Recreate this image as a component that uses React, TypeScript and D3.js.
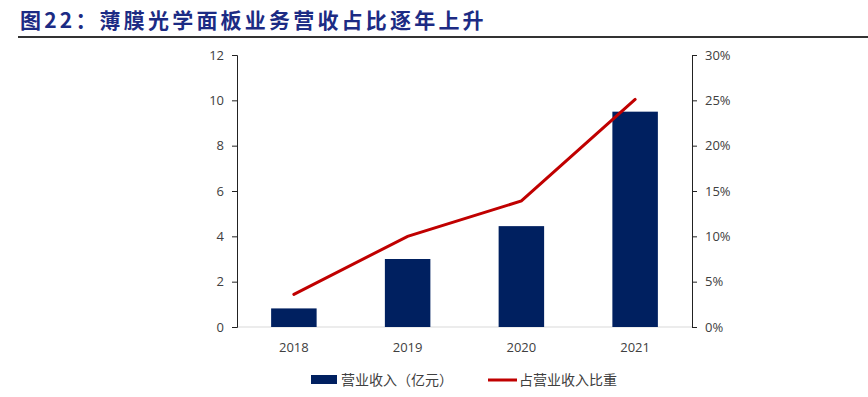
import React, { useEffect, useRef } from "react";
import * as d3 from "d3";

const years = ["2018", "2019", "2020", "2021"];
const revenue = [0.82, 3.0, 4.45, 9.5]; // 营业收入（亿元）
const share = [0.036, 0.1, 0.139, 0.251]; // 占营业收入比重
const leftTicks = [0, 2, 4, 6, 8, 10, 12];
const rightTicks = [0, 0.05, 0.1, 0.15, 0.2, 0.25, 0.3];

const title = "图22：薄膜光学面板业务营收占比逐年上升";
const barName = "营业收入（亿元）";
const lineName = "占营业收入比重";

function App() {
  const ref = useRef<SVGSVGElement>(null);

  useEffect(() => {
    const width = 868;
    const height = 397;
    const margin = { top: 55, right: 176, bottom: 70, left: 237 };
    const font = "'Open Sans', 'Noto Sans CJK SC', sans-serif";

    const svg = d3.select(ref.current);
    svg.selectAll("*").remove();

    // title + rule
    svg
      .append("text")
      .attr("x", 20)
      .attr("y", 28)
      .attr("fill", "#1c2b84")
      .attr("font-family", "'Noto Sans CJK SC', sans-serif")
      .attr("font-weight", "bold")
      .attr("font-size", 21)
      .attr("letter-spacing", 3.2)
      .text(title);
    svg
      .append("line")
      .attr("x1", 18)
      .attr("x2", width)
      .attr("y1", 37)
      .attr("y2", 37)
      .attr("stroke", "#333")
      .attr("stroke-width", 2);

    const x = d3
      .scaleBand()
      .domain(years)
      .range([margin.left, width - margin.right])
      .paddingInner(0.6)
      .paddingOuter(0.3);

    const yL = d3
      .scaleLinear()
      .domain([0, 12])
      .range([height - margin.bottom, margin.top]);
    const yR = d3
      .scaleLinear()
      .domain([0, 0.3])
      .range([height - margin.bottom, margin.top]);

    // baseline
    svg
      .append("line")
      .attr("x1", margin.left)
      .attr("x2", width - margin.right)
      .attr("y1", yL(0))
      .attr("y2", yL(0))
      .attr("stroke", "#d9d9d9")
      .attr("stroke-width", 1);

    // bars
    svg
      .append("g")
      .selectAll("rect")
      .data(revenue)
      .join("rect")
      .attr("x", (d, i) => x(years[i]))
      .attr("y", (d) => yL(d))
      .attr("width", x.bandwidth())
      .attr("height", (d) => yL(0) - yL(d))
      .attr("fill", "#002060");

    // left axis
    const gl = svg
      .append("g")
      .attr("transform", `translate(${margin.left},0)`)
      .call(d3.axisLeft(yL).tickValues(leftTicks).tickSize(5).tickSizeOuter(5).tickPadding(8));
    gl.select(".domain").attr("stroke", "#222");
    gl.selectAll(".tick line").attr("stroke", "#222");
    gl.selectAll("text")
      .attr("font-family", font)
      .attr("font-size", 13)
      .attr("fill", "#404040");

    // right axis
    const gr = svg
      .append("g")
      .attr("transform", `translate(${width - margin.right},0)`)
      .call(
        d3
          .axisRight(yR)
          .tickValues(rightTicks)
          .tickFormat(d3.format(".0%"))
          .tickSize(5)
          .tickSizeOuter(5)
          .tickPadding(8)
      );
    gr.select(".domain").attr("stroke", "#222");
    gr.selectAll(".tick line").attr("stroke", "#222");
    gr.selectAll("text")
      .attr("font-family", font)
      .attr("font-size", 13)
      .attr("fill", "#404040");

    // x labels
    svg
      .append("g")
      .selectAll("text")
      .data(years)
      .join("text")
      .attr("x", (d) => x(d) + x.bandwidth() / 2)
      .attr("y", yL(0) + 25)
      .attr("text-anchor", "middle")
      .attr("font-family", font)
      .attr("font-size", 13)
      .attr("fill", "#404040")
      .text((d) => d);

    // line
    const line = d3
      .line<number>()
      .x((d, i) => x(years[i]) + x.bandwidth() / 2)
      .y((d) => yR(d));
    svg
      .append("path")
      .attr("fill", "none")
      .attr("stroke", "#c00000")
      .attr("stroke-width", 3)
      .attr("stroke-linecap", "round")
      .attr("d", line(share));

    // legend
    const leg = svg.append("g").attr("font-family", font).attr("font-size", 14).attr("fill", "#404040");
    leg
      .append("rect")
      .attr("x", 311)
      .attr("y", 375)
      .attr("width", 26)
      .attr("height", 9)
      .attr("fill", "#002060");
    leg.append("text").attr("x", 341).attr("y", 385).text(barName);
    leg
      .append("line")
      .attr("x1", 488)
      .attr("x2", 517)
      .attr("y1", 380)
      .attr("y2", 380)
      .attr("stroke", "#c00000")
      .attr("stroke-width", 3);
    leg.append("text").attr("x", 519).attr("y", 385).text(lineName);
  }, []);

  return (
    <svg
      ref={ref}
      width={868}
      height={397}
      style={{ position: "absolute", left: 0, top: 0, background: "#fff" }}
    />
  );
}

export default App;
